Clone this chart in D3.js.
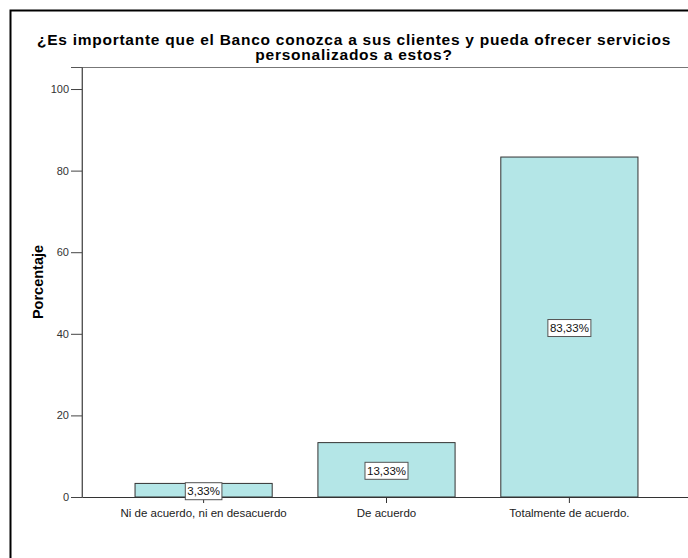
<!DOCTYPE html>
<html>
<head>
<meta charset="utf-8">
<script src="https://cdn.jsdelivr.net/npm/d3@7"></script>
<style>
  body { margin: 0; background: #fff; }
  text { font-family: "Liberation Sans", Arial, sans-serif; }
</style>
</head>
<body>
<div id="graph"></div>
<script>
// data
const categories = ["Ni de acuerdo, ni en desacuerdo", "De acuerdo", "Totalmente de acuerdo."];
const values = [3.33, 13.33, 83.33];
const yTicks = [0, 20, 40, 60, 80, 100];
const titleLines = ["¿Es importante que el Banco conozca a sus clientes y pueda ofrecer servicios",
                    "personalizados a estos?"];

const W = 688, H = 558;
const margin = {top: 67, right: -3, bottom: 61, left: 82},
  width = W - margin.left - margin.right,
  height = H - margin.top - margin.bottom;

const svg = d3.select("#graph")
  .append("svg")
    .attr("width", W)
    .attr("height", H);

// outer frame
svg.append("rect")
  .attr("x", 10.5).attr("y", 10.5)
  .attr("width", W + 20).attr("height", H + 20)
  .attr("fill", "none")
  .attr("stroke", "#000")
  .attr("stroke-width", 2);

// title
svg.append("g").selectAll("text")
  .data(titleLines)
  .join("text")
    .attr("x", 354)
    .attr("y", (d, i) => 45 + i * 14.5)
    .attr("text-anchor", "middle")
    .style("font-size", "15.5px")
    .style("letter-spacing", "0.75px")
    .style("font-weight", "bold")
    .text(d => d);

const g = svg.append("g")
  .attr("transform", `translate(${margin.left}, ${margin.top})`);

const x = d3.scaleBand()
  .domain(categories)
  .range([0, width])
  .paddingInner(0.25)
  .paddingOuter(0.29);

const y = d3.scaleLinear()
  .domain([0, 105.4])
  .range([height, 0]);

// plot frame (top and left)
g.append("path")
  .attr("d", `M0,${height}V0.5H${width}`)
  .attr("fill", "none")
  .attr("stroke", "#777")
  .attr("stroke-width", 1);

// bars
g.selectAll(".bar")
  .data(values)
  .join("rect")
    .attr("class", "bar")
    .attr("x", (d, i) => x(categories[i]))
    .attr("y", d => y(d))
    .attr("width", x.bandwidth())
    .attr("height", d => height - y(d))
    .attr("fill", "#b4e6e7")
    .attr("stroke", "#333")
    .attr("stroke-width", 1);

// y axis
const yAxis = g.append("g")
  .call(d3.axisLeft(y).tickValues(yTicks).tickSize(11).tickPadding(2).tickFormat(d3.format("d")));
yAxis.select(".domain").attr("stroke", "#555");
yAxis.selectAll(".tick line").attr("stroke", "#444");
yAxis.selectAll(".tick text")
  .style("font-size", "11px")
  .attr("fill", "#333");

// x axis
const xAxis = g.append("g")
  .attr("transform", `translate(0, ${height})`)
  .call(d3.axisBottom(x).tickSize(6).tickPadding(6).tickSizeOuter(0));
xAxis.select(".domain").attr("stroke", "#333");
xAxis.selectAll(".tick line").attr("stroke", "#333");
xAxis.selectAll(".tick text")
  .style("font-size", "11.5px")
  .attr("fill", "#222");

// y label
svg.append("text")
  .attr("transform", "translate(43, 282) rotate(-90)")
  .attr("text-anchor", "middle")
  .style("font-size", "14.5px")
  .style("font-weight", "bold")
  .text("Porcentaje");

// value labels
const fmt = v => v.toFixed(2).replace(".", ",") + "%";
const lbl = g.selectAll(".lbl")
  .data(values)
  .join("g")
    .attr("class", "lbl")
    .attr("transform", (d, i) => `translate(${x(categories[i]) + x.bandwidth() / 2}, ${(y(d) + height) / 2 + 1})`);

lbl.append("text")
  .attr("text-anchor", "middle")
  .attr("dy", "0.35em")
  .style("font-size", "11.5px")
  .attr("fill", "#111")
  .text(d => fmt(d));

lbl.each(function() {
  const t = d3.select(this).select("text");
  const b = t.node().getBBox();
  d3.select(this).insert("rect", "text")
    .attr("x", b.x - 2)
    .attr("y", -8.5)
    .attr("width", b.width + 4)
    .attr("height", 17)
    .attr("fill", "#fff")
    .attr("stroke", "#555")
    .attr("stroke-width", 1);
});
</script>
</body>
</html>
